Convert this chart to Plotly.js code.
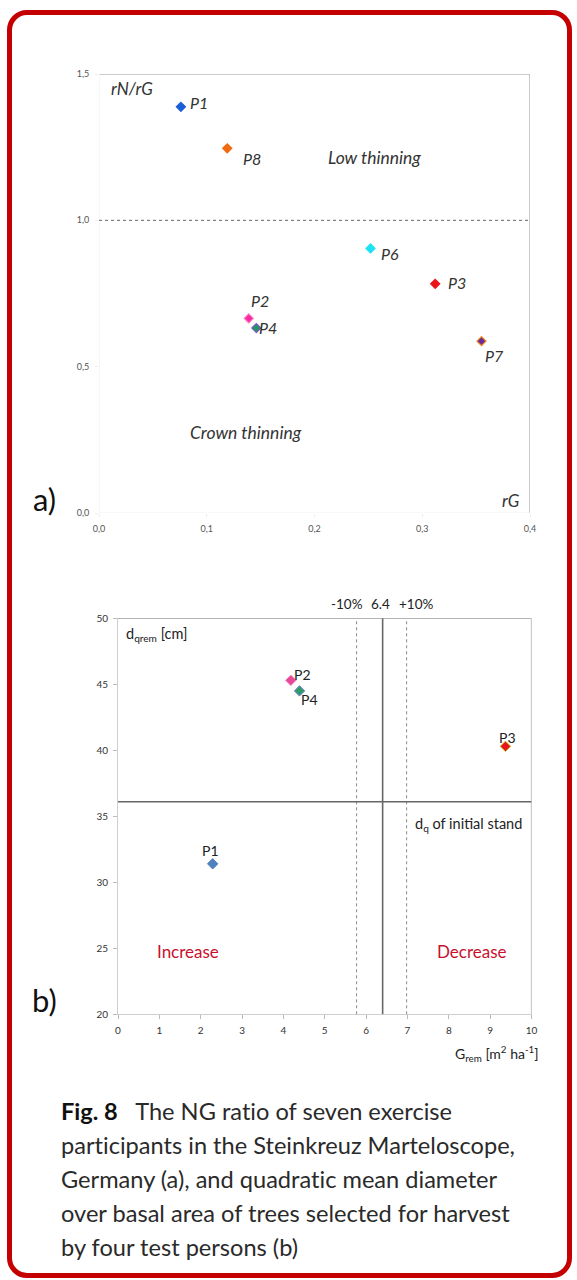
<!DOCTYPE html>
<html>
<head>
<meta charset="utf-8">
<script src="https://cdn.plot.ly/plotly-3.0.1.min.js"></script>
<style>
  html, body { margin: 0; padding: 0; background: #ffffff; width: 577px; height: 1280px; overflow: hidden; }
  #frame { position: absolute; left: 7px; top: 10px; width: 565px; height: 1268px; box-sizing: border-box;
           border: 5px solid #c40000; border-radius: 20px; }
  #chart { position: absolute; left: 0; top: 0; width: 577px; height: 1080px; }
  #chart text { font-variant-ligatures: none; }
  #caption { position: absolute; left: 61px; top: 1094px; width: 500px; font-family: Lato, 'Open Sans', sans-serif;
             font-size: 23.6px; line-height: 34px; color: #2a2a2a; letter-spacing: 0px; white-space: nowrap;
             font-variant-ligatures: none; }
  #caption b { font-weight: 700; color: #111; }
</style>
</head>
<body>
<div id="frame"></div>
<div id="chart"></div>
<div id="caption"><b>Fig. 8</b>&nbsp;&nbsp; The NG ratio of seven exercise<br>participants in the Steinkreuz Marteloscope,<br>Germany (a), and quadratic mean diameter<br>over basal area of trees selected for harvest<br>by four test persons (b)</div>
<script>
// ---------- Panel a) data ----------
const aLabels = ['P1', 'P8', 'P6', 'P3', 'P7', 'P2', 'P4'];
const aRG     = [0.076, 0.119, 0.252, 0.312, 0.355, 0.139, 0.146];
const aRatio  = [1.388, 1.246, 0.904, 0.783, 0.587, 0.665, 0.632];
const aXTicks = [0, 0.1, 0.2, 0.3, 0.4];
const aXTickText = ['0,0', '0,1', '0,2', '0,3', '0,4'];
const aYTicks = [0, 0.5, 1.0, 1.5];
const aYTickText = ['0,0', '0,5', '1,0', '1,5'];
const aThreshold = 1.0;

// ---------- Panel b) data ----------
const bLabels = ['P1', 'P2', 'P3', 'P4'];
const bGrem   = [2.29, 4.18, 9.37, 4.39];
const bDq     = [31.4, 45.3, 40.3, 44.5];
const bGInitial = 6.4;
const bGLow  = 5.77;
const bGHigh = 6.98;
const bDqInitial = 36.1;

// ---------- styles (kept apart from data) ----------
const aFill = ['#1a5fd6', '#f26a10', '#19e3f5', '#e8151b', '#6a2a9a', '#f52aa0', '#1f9a5a'];
const aEdge = ['#1a5fd6', '#f26a10', '#19e3f5', '#e8151b', '#f08a1a', '#ff7ac0', '#7a5ad0'];
const aShift = [[18, 4], [25, -10], [19, -5], [22, 1], [13, -14], [11, 18], [12, 1]];
const bFill = ['#4f81bd', '#e8489a', '#e8151b', '#2f9a6a'];
const bEdge = ['#4f81bd', '#f07ab8', '#c8b020', '#7f7fd0'];
const bShift = [[-2, 13], [12, 6], [2, 9], [10, -9]];

const W = 577, H = 1080;
const FONT = 'Lato, "Open Sans", sans-serif';
const px = (x) => x / W;
const py = (y) => 1 - y / H;

const traces = [
  { type: 'scatter', mode: 'markers', x: aRG, y: aRatio, xaxis: 'x', yaxis: 'y',
    marker: { symbol: 'diamond', size: 7, color: aFill, line: { color: aEdge, width: 1.2 } },
    hoverinfo: 'skip', showlegend: false },
  { type: 'scatter', mode: 'markers', x: bGrem, y: bDq, xaxis: 'x2', yaxis: 'y2',
    marker: { symbol: 'diamond', size: 8, color: bFill, line: { color: bEdge, width: 1 } },
    hoverinfo: 'skip', showlegend: false }
];

function ann(o) {
  return Object.assign({ showarrow: false, xanchor: 'center', yanchor: 'middle' }, o);
}

const annotations = [];
aLabels.forEach((t, i) => annotations.push(ann({
  xref: 'x', yref: 'y', x: aRG[i], y: aRatio[i], text: '<i>' + t + '</i>',
  xshift: aShift[i][0], yshift: aShift[i][1], font: { family: FONT, size: 16, color: '#333' }
})));
bLabels.forEach((t, i) => annotations.push(ann({
  xref: 'x2', yref: 'y2', x: bGrem[i], y: bDq[i], text: t,
  xshift: bShift[i][0], yshift: bShift[i][1], font: { family: FONT, size: 14, color: '#222' }
})));
// panel a) text
annotations.push(
  ann({ xref: 'paper', yref: 'paper', x: px(109), y: py(88), xanchor: 'left', text: '<i>rN/rG</i>',
    font: { family: FONT, size: 17, color: '#333' } }),
  ann({ xref: 'paper', yref: 'paper', x: px(374), y: py(157), text: '<i>Low thinning</i>',
    font: { family: FONT, size: 17.5, color: '#333' } }),
  ann({ xref: 'paper', yref: 'paper', x: px(246), y: py(432), text: '<i>Crown thinning</i>',
    font: { family: FONT, size: 17.5, color: '#333' } }),
  ann({ xref: 'paper', yref: 'paper', x: px(511), y: py(500), text: '<i>rG</i>',
    font: { family: FONT, size: 17, color: '#333' } }),
  ann({ xref: 'paper', yref: 'paper', x: px(44), y: py(499), text: 'a)',
    font: { family: FONT, size: 31, color: '#111' } }),
  ann({ xref: 'paper', yref: 'paper', x: px(44), y: py(1000), text: 'b)',
    font: { family: FONT, size: 31, color: '#111' } })
);
// panel b) text
annotations.push(
  ann({ xref: 'paper', yref: 'paper', x: px(124), y: py(634), xanchor: 'left', text: 'd<sub>qrem</sub> [cm]',
    font: { family: FONT, size: 14.5, color: '#222' } }),
  ann({ xref: 'x2', yref: 'paper', x: bGLow, y: py(604), xshift: -10, text: '-10%',
    font: { family: FONT, size: 13.5, color: '#222' } }),
  ann({ xref: 'x2', yref: 'paper', x: bGInitial, y: py(604), xshift: -2, text: '6.4',
    font: { family: FONT, size: 13.5, color: '#222' } }),
  ann({ xref: 'x2', yref: 'paper', x: bGHigh, y: py(604), xshift: 9, text: '+10%',
    font: { family: FONT, size: 13.5, color: '#222' } }),
  ann({ xref: 'paper', yref: 'paper', x: px(413), y: py(824), xanchor: 'left', text: 'd<sub>q</sub> of initial stand',
    font: { family: FONT, size: 14.5, color: '#222' } }),
  ann({ xref: 'paper', yref: 'paper', x: px(188), y: py(951), text: 'Increase',
    font: { family: FONT, size: 17, color: '#c8102e' } }),
  ann({ xref: 'paper', yref: 'paper', x: px(472), y: py(951), text: 'Decrease',
    font: { family: FONT, size: 17, color: '#c8102e' } }),
  ann({ xref: 'paper', yref: 'paper', x: px(541), y: py(1053), xanchor: 'right', text: 'G<sub>rem</sub> [m<sup>2</sup> ha<sup>-1</sup>]',
    font: { family: FONT, size: 14, color: '#222' } })
);

const shapes = [
  // panel a) frame
  { type: 'line', xref: 'x', yref: 'y', x0: 0, x1: 0.4, y0: 1.5, y1: 1.5, line: { color: '#b8b8b8', width: 1.5 } },
  { type: 'line', xref: 'x', yref: 'y', x0: 0.4, x1: 0.4, y0: 0, y1: 1.5, line: { color: '#b8b8b8', width: 1.5 } },
  { type: 'line', xref: 'x', yref: 'y', x0: 0, x1: 0, y0: 0, y1: 1.5, line: { color: '#f0f0f0', width: 1 } },
  { type: 'line', xref: 'x', yref: 'y', x0: 0, x1: 0.4, y0: 0, y1: 0, line: { color: '#f0f0f0', width: 1 } },
  { type: 'line', xref: 'x', yref: 'y', x0: 0, x1: 0.4, y0: aThreshold, y1: aThreshold, line: { color: '#666', width: 1, dash: 'dot' } },
  // panel b) frame and references
  { type: 'line', xref: 'x2', yref: 'y2', x0: 0, x1: 10, y0: 50, y1: 50, line: { color: '#9a9a9a', width: 1.2 } },
  { type: 'line', xref: 'x2', yref: 'y2', x0: 10, x1: 10, y0: 20, y1: 50, line: { color: '#9a9a9a', width: 1.2 } },
  { type: 'line', xref: 'x2', yref: 'y2', x0: bGLow, x1: bGLow, y0: 20, y1: 50, line: { color: '#888', width: 1, dash: 'dot' } },
  { type: 'line', xref: 'x2', yref: 'y2', x0: bGHigh, x1: bGHigh, y0: 20, y1: 50, line: { color: '#888', width: 1, dash: 'dot' } },
  { type: 'line', xref: 'x2', yref: 'y2', x0: bGInitial, x1: bGInitial, y0: 20, y1: 50, line: { color: '#666', width: 1.6 } },
  { type: 'line', xref: 'x2', yref: 'y2', x0: 0, x1: 10, y0: bDqInitial, y1: bDqInitial, line: { color: '#666', width: 1.4 } }
];

const tickFontA = { family: FONT, size: 9, color: '#555' };
const tickFontB = { family: FONT, size: 10, color: '#333' };

const layout = {
  width: W, height: H,
  margin: { l: 0, r: 0, t: 0, b: 0 },
  paper_bgcolor: 'rgba(0,0,0,0)', plot_bgcolor: '#ffffff',
  showlegend: false,
  xaxis: { domain: [px(99), px(530)], range: [0, 0.4], anchor: 'y', tickvals: aXTicks, ticktext: aXTickText,
           showgrid: false, zeroline: false, showline: false, ticks: 'outside', ticklen: 3, tickcolor: '#eee',
           tickfont: tickFontA, automargin: false, fixedrange: true, ticklabelstandoff: 4 },
  yaxis: { domain: [py(513), py(74)], range: [0, 1.5], anchor: 'x', tickvals: aYTicks, ticktext: aYTickText,
           showgrid: false, zeroline: false, showline: false, ticks: 'outside', ticklen: 3, tickcolor: '#eee',
           tickfont: tickFontA, automargin: false, fixedrange: true, ticklabelstandoff: 4 },
  xaxis2: { domain: [px(118), px(531.5)], range: [0, 10], anchor: 'y2', tickvals: [0,1,2,3,4,5,6,7,8,9,10],
            showgrid: false, zeroline: false, showline: true, linecolor: '#cfcfcf', linewidth: 1,
            ticks: 'outside', ticklen: 4, tickcolor: '#bbb', tickfont: tickFontB, automargin: false, fixedrange: true, ticklabelstandoff: 3 },
  yaxis2: { domain: [py(1014.3), py(618.3)], range: [20, 50], anchor: 'x2', tickvals: [20,25,30,35,40,45,50],
            showgrid: false, zeroline: false, showline: true, linecolor: '#cfcfcf', linewidth: 1,
            ticks: 'outside', ticklen: 4, tickcolor: '#bbb', tickfont: tickFontB, automargin: false, fixedrange: true, ticklabelstandoff: 3 },
  shapes: shapes,
  annotations: annotations
};

Plotly.newPlot('chart', traces, layout, { displayModeBar: false, staticPlot: true });
</script>
</body>
</html>
